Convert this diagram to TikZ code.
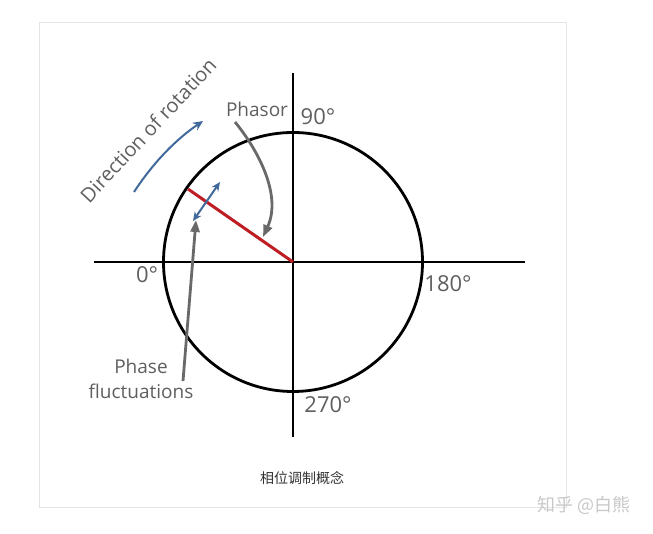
\documentclass[tikz,border=0pt]{standalone}
\usepackage{fontspec}
\setmainfont{Open Sans}
\newfontfamily\cjk{Noto Sans CJK SC}
\usetikzlibrary{arrows.meta}
\definecolor{txtgray}{RGB}{95,95,95}
\definecolor{arrgray}{RGB}{105,105,105}
\definecolor{phred}{RGB}{190,30,35}
\definecolor{rotblue}{RGB}{65,105,155}
\definecolor{framegray}{RGB}{228,228,228}
\definecolor{wmgray}{RGB}{200,200,200}
\tikzset{
  axis/.style={line width=2.8pt, black},
  lbl/.style={text=txtgray, inner sep=0pt, font=\fontsize{22}{26}\selectfont},
  small/.style={text=txtgray, inner sep=0pt, font=\fontsize{19}{25}\selectfont},
  grayarrow/.style={line width=2.8pt, arrgray, -{Triangle[length=12pt,width=9pt]}},
  bluearrow/.style={line width=2pt, rotblue, -{Stealth[length=10pt,width=9pt]}},
}
\begin{document}
\begin{tikzpicture}[x=1pt,y=-1pt]
\useasboundingbox (0,0) rectangle (653,534);
\fill[white] (0,0) rectangle (653,534);
\draw[framegray, line width=0.8pt] (39,22) rectangle (566,507);
% axes
\coordinate (O) at (293,262);
\coordinate (L) at (94,262);
\coordinate (R) at (525,262);
\coordinate (T) at (293,73);
\coordinate (B) at (293,437);
\draw[axis] (L) -- (R);
\draw[axis] (T) -- (B);
\draw[axis] (O) circle (129.5);
% phasor
\coordinate (P) at (188,189);
\draw[line width=3pt, phred] (O) -- (P);
% labels
\node[lbl] (l90) at (318,117) {90°};
\node[lbl] (l0) at (147,275) {0°};
\node[lbl] (l180) at (448,284) {180°};
\node[lbl] (l270) at (328,405) {270°};
\node[small] (phasor) at (257,109) {Phasor};
\node[small, align=center] (phf) at (141,379) {Phase\\fluctuations};
\node[small, font=\fontsize{20}{24}\selectfont, rotate=47] (dir) at (148,130) {Direction of rotation};
% arrows
\coordinate (pa1) at (235,122);
\coordinate (pa2) at (263,237);
\draw[grayarrow] (pa1) .. controls (258,150) and (282,195) .. (pa2);
\coordinate (pf1) at (183,381);
\coordinate (pf2) at (196,220);
\draw[grayarrow] (pf1) -- (pf2);
\coordinate (da1) at (193,221);
\coordinate (da2) at (220,182);
\draw[line width=2pt, rotblue, {Stealth[length=9pt,width=8pt]}-{Stealth[length=9pt,width=8pt]}] (da1) -- (da2);
\coordinate (r1) at (134,192);
\coordinate (r2) at (203,121);
\draw[bluearrow] (r1) .. controls (155,160) and (178,138) .. (r2);
% caption and watermark
\node[text=black!80, inner sep=0pt, font=\cjk\fontsize{14}{16}\selectfont] (cap) at (302,478) {相位调制概念};
\node[text=wmgray, inner sep=0pt, font=\cjk\fontsize{18}{20}\selectfont] (wm) at (584,505) {知乎 @白熊};
\end{tikzpicture}
\end{document}
